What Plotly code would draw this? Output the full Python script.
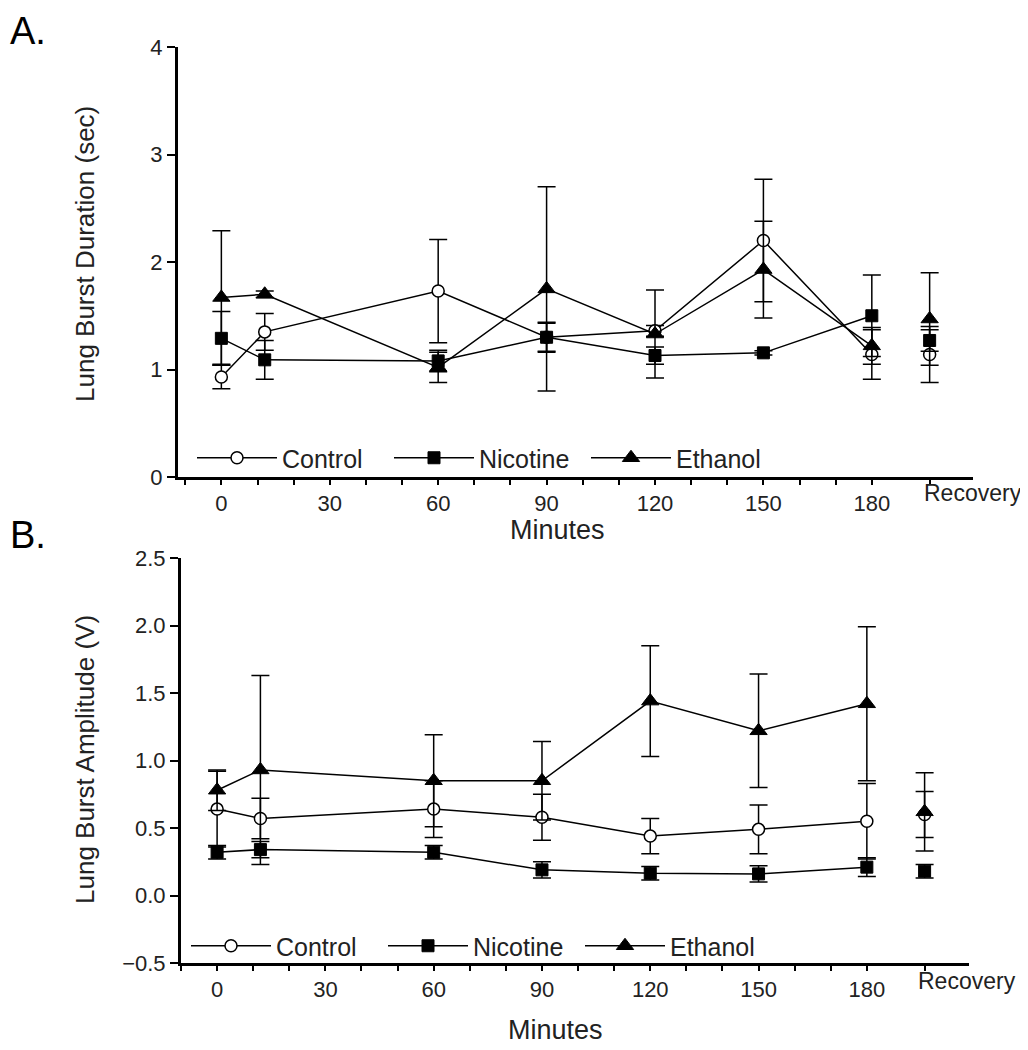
import plotly.graph_objects as go

# ---------------- data ----------------
minutes = [0, 12, 60, 90, 120, 150, 180]
recovery_label = "Recovery"
series_names = ["Control", "Nicotine", "Ethanol"]

# Panel A: Lung burst duration (sec)
dur_control = [0.93, 1.35, 1.73, 1.30, 1.36, 2.20, 1.14]
dur_control_err = [0.11, 0.17, 0.48, 0.13, 0.05, 0.57, 0.23]
dur_nicotine = [1.29, 1.09, 1.08, 1.30, 1.13, 1.155, 1.50]
dur_nicotine_err = [0.25, 0.18, 0.10, 0.14, 0.08, 0.02, 0.38]
dur_ethanol = [1.67, 1.70, 1.02, 1.75, 1.33, 1.93, 1.22]
dur_ethanol_err = [0.62, 0.03, 0.14, 0.95, 0.41, 0.45, 0.17]
dur_recovery = [1.14, 1.27, 1.47]
dur_recovery_err = [0.26, 0.10, 0.43]

# Panel B: Lung burst amplitude (V)
amp_control = [0.64, 0.57, 0.64, 0.58, 0.44, 0.49, 0.55]
amp_control_err = [0.28, 0.15, 0.21, 0.17, 0.13, 0.18, 0.28]
amp_nicotine = [0.32, 0.34, 0.32, 0.19, 0.165, 0.16, 0.21]
amp_nicotine_err = [0.05, 0.06, 0.05, 0.06, 0.05, 0.06, 0.07]
amp_ethanol = [0.78, 0.93, 0.85, 0.85, 1.44, 1.22, 1.42]
amp_ethanol_err = [0.15, 0.70, 0.34, 0.29, 0.41, 0.42, 0.57]
amp_recovery = [0.60, 0.18, 0.62]
amp_recovery_err = [0.17, 0.05, 0.29]

x_tick_minutes = list(range(-10, 181, 10))
x_tick_labels = ["0", "30", "60", "90", "120", "150", "180"]
dur_ticks = [0, 1, 2, 3, 4]
amp_ticks = [-0.5, 0.0, 0.5, 1.0, 1.5, 2.0, 2.5]

# ---------------- style ----------------
FONT = "Liberation Sans, Arial, sans-serif"
REC_X = 196  # plotting position of the Recovery column
markers = [
    dict(symbol="circle", size=12, color="white", line=dict(color="black", width=1.5)),
    dict(symbol="square", size=12, color="black", line=dict(color="black", width=1)),
    dict(symbol="triangle-up", size=15, color="black", line=dict(color="black", width=1)),
]

fig = go.Figure()


def add_panel(vals, errs, rec_vals, rec_errs, xa, ya, legend):
    for i, name in enumerate(series_names):
        fig.add_trace(go.Scatter(
            x=minutes, y=vals[i], name=name, mode="lines+markers",
            line=dict(color="black", width=1.5), marker=markers[i],
            error_y=dict(type="data", array=errs[i], color="black", thickness=1.5, width=9),
            xaxis=xa, yaxis=ya, legend=legend, cliponaxis=False,
        ))
    for i, name in enumerate(series_names):
        fig.add_trace(go.Scatter(
            x=[REC_X], y=[rec_vals[i]], name=name, mode="markers",
            marker=markers[i], showlegend=False,
            error_y=dict(type="data", array=[rec_errs[i]], color="black", thickness=1.5, width=9),
            xaxis=xa, yaxis=ya, cliponaxis=False,
        ))


add_panel([dur_control, dur_nicotine, dur_ethanol],
          [dur_control_err, dur_nicotine_err, dur_ethanol_err],
          dur_recovery, dur_recovery_err, "x", "y", "legend")
add_panel([amp_control, amp_nicotine, amp_ethanol],
          [amp_control_err, amp_nicotine_err, amp_ethanol_err],
          amp_recovery, amp_recovery_err, "x2", "y2", "legend2")

tickvals = x_tick_minutes + [REC_X]
ticktext = []
for m in x_tick_minutes:
    ticktext.append(str(m) if str(m) in x_tick_labels else "")
ticktext.append("")

W, H = 1028, 1050
OFF = 8  # page offset of the figure inside the browser window


def px_x(p):
    return (p - OFF) / W


def px_y(p):
    return 1 - (p - OFF) / H


xaxis_common = dict(
    showline=True, linecolor="black", linewidth=3, ticks="outside", ticklen=5,
    tickwidth=2, tickcolor="black", showgrid=False, zeroline=False, automargin=False,
    tickvals=tickvals, ticktext=ticktext, tickfont=dict(size=22, color="#222"),
)
yaxis_common = dict(
    showline=True, linecolor="black", linewidth=3, ticks="outside", ticklen=8,
    tickwidth=2, tickcolor="black", showgrid=False, zeroline=False, automargin=False,
    tickfont=dict(size=22, color="#222"),
)

legend_common = dict(
    orientation="h", xanchor="left", yanchor="middle", bgcolor="rgba(0,0,0,0)",
    font=dict(size=25, color="#222", family=FONT), itemwidth=80, entrywidth=102,
    itemclick=False,
)

fig.update_layout(
    template="none",
    width=W, height=H, margin=dict(l=0, r=0, t=0, b=0, pad=0, autoexpand=False),
    paper_bgcolor="white", plot_bgcolor="white",
    font=dict(family=FONT, color="#222"),
    xaxis=dict(domain=[px_x(178), px_x(973)], range=[-12, 208], anchor="y", **xaxis_common),
    yaxis=dict(domain=[px_y(477), px_y(47)], range=[0, 4], anchor="x",
               tickvals=dur_ticks, **yaxis_common),
    xaxis2=dict(domain=[px_x(181), px_x(969)], range=[-10, 208.3], anchor="y2", **xaxis_common),
    yaxis2=dict(domain=[px_y(963), px_y(558)], range=[-0.5, 2.5], anchor="x2",
                tickvals=amp_ticks, tickformat=".1f", **yaxis_common),
    legend=dict(x=px_x(192), y=px_y(458), **legend_common),
    legend2=dict(x=px_x(186), y=px_y(946), **legend_common),
    showlegend=True,
)

annotations = [
    dict(text="A.", x=0, y=1, xref="paper", yref="paper", xanchor="left", yanchor="top",
         font=dict(size=38, color="black"), showarrow=False),
    dict(text="B.", x=0, y=px_y(512), xref="paper", yref="paper", xanchor="left", yanchor="top",
         font=dict(size=38, color="black"), showarrow=False),
    dict(text="Lung Burst Duration (sec)", x=px_x(85), y=px_y(254), xref="paper", yref="paper",
         xanchor="center", yanchor="middle",
         textangle=-90, font=dict(size=26, color="#222"), showarrow=False),
    dict(text="Lung Burst Amplitude (V)", x=px_x(85), y=px_y(760), xref="paper", yref="paper",
         xanchor="center", yanchor="middle",
         textangle=-90, font=dict(size=26, color="#222"), showarrow=False),
    dict(text="Minutes", x=px_x(557), y=px_y(530), xref="paper", yref="paper",
         xanchor="center", yanchor="middle",
         font=dict(size=27, color="#222"), showarrow=False),
    dict(text="Minutes", x=px_x(555), y=px_y(1030), xref="paper", yref="paper",
         xanchor="center", yanchor="middle",
         font=dict(size=27, color="#222"), showarrow=False),
    dict(text=recovery_label, x=REC_X, y=px_y(493), xref="x", yref="paper",
         xanchor="left", yanchor="middle", xshift=-8,
         font=dict(size=23, color="#222"), showarrow=False),
    dict(text=recovery_label, x=REC_X, y=px_y(981), xref="x2", yref="paper",
         xanchor="left", yanchor="middle", xshift=-9,
         font=dict(size=23, color="#222"), showarrow=False),
]
fig.update_layout(annotations=annotations)

fig.write_html("out.html")
